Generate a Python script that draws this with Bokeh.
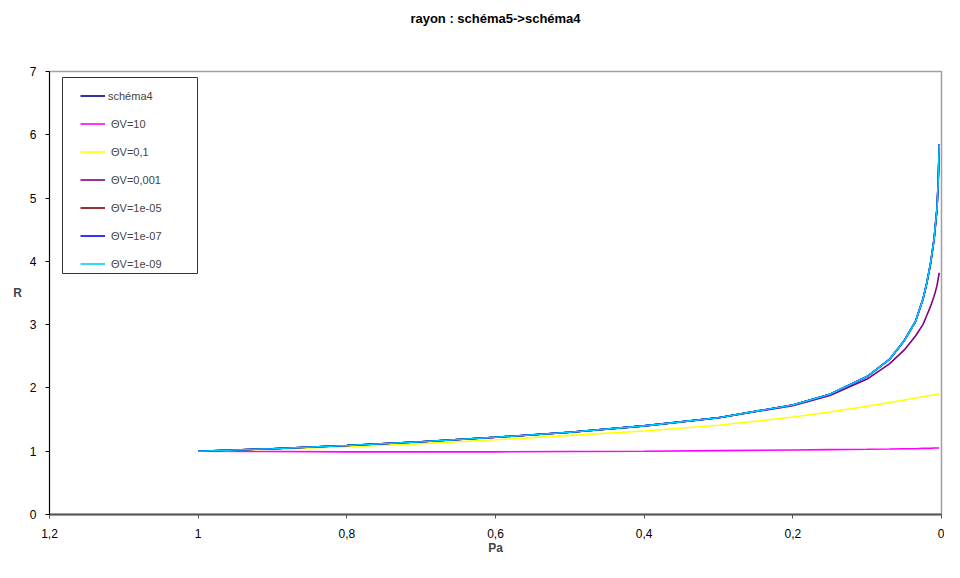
from bokeh.plotting import figure
from bokeh.models import (Range1d, FixedTicker, CustomJSTickFormatter, Legend, LegendItem,
                          BoxAnnotation, LinearAxis)
from bokeh.embed import file_html
from bokeh.resources import INLINE

# ---- data ----
pa = [1.0, 0.9, 0.8, 0.7, 0.6, 0.5, 0.4, 0.3, 0.2, 0.15, 0.1, 0.07, 0.05,
      0.035, 0.025, 0.02, 0.015, 0.01, 0.008, 0.006, 0.0045, 0.003]
schema4 = [1.00, 1.04, 1.09, 1.15, 1.22, 1.30, 1.40, 1.53, 1.73, 1.90, 2.18, 2.45, 2.75,
           3.05, 3.40, 3.65, 3.95, 4.35, 4.60, 4.85, 5.25, 5.85]
tv_10 = [1.00, 0.995, 0.99, 0.99, 0.99, 0.995, 1.00, 1.01, 1.02, 1.025, 1.03, 1.035, 1.04,
         1.04, 1.045, 1.045, 1.045, 1.05, 1.05, 1.05, 1.05, 1.05]
tv_0_1 = [1.00, 1.03, 1.07, 1.12, 1.18, 1.25, 1.32, 1.41, 1.54, 1.62, 1.71, 1.77, 1.81,
          1.84, 1.86, 1.87, 1.88, 1.89, 1.895, 1.90, 1.905, 1.91]
tv_0_001 = [1.00, 1.04, 1.09, 1.15, 1.22, 1.30, 1.40, 1.53, 1.72, 1.88, 2.14, 2.38, 2.60,
            2.82, 3.00, 3.14, 3.28, 3.45, 3.53, 3.62, 3.72, 3.82]
tv_1e05 = [1.00, 1.04, 1.09, 1.15, 1.22, 1.30, 1.40, 1.53, 1.73, 1.90, 2.18, 2.45, 2.75,
           3.05, 3.40, 3.64, 3.94, 4.34, 4.58, 4.83, 5.22, 5.80]
tv_1e07 = [1.00, 1.04, 1.09, 1.15, 1.22, 1.30, 1.40, 1.53, 1.73, 1.90, 2.18, 2.45, 2.75,
           3.05, 3.40, 3.65, 3.95, 4.35, 4.60, 4.85, 5.25, 5.85]
tv_1e09 = [1.00, 1.04, 1.09, 1.15, 1.22, 1.30, 1.40, 1.53, 1.73, 1.90, 2.18, 2.45, 2.75,
           3.05, 3.40, 3.65, 3.95, 4.35, 4.60, 4.85, 5.25, 5.85]

series_labels = ["schéma4", " ΘV=10", " ΘV=0,1", " ΘV=0,001", " ΘV=1e-05", " ΘV=1e-07", " ΘV=1e-09"]
series_values = [schema4, tv_10, tv_0_1, tv_0_001, tv_1e05, tv_1e07, tv_1e09]
series_colors = ["#000080", "#FF00FF", "#FFFF00", "#800080", "#800000", "#0000FF", "#00CCFF"]

x_ticks = [1.2, 1.0, 0.8, 0.6, 0.4, 0.2, 0.0]
y_ticks = [0, 1, 2, 3, 4, 5, 6, 7]
title_text = "rayon : schéma5->schéma4"

FONT = "Liberation Sans"

p = figure(width=944, height=562, output_backend="svg", toolbar_location=None, title=None,
           x_range=Range1d(1.2, 0), y_range=Range1d(0, 7),
           min_border_left=49, min_border_right=3, min_border_top=71, min_border_bottom=48)

p.background_fill_color = "white"
p.border_fill_color = "white"
p.outline_line_color = "#a0a0a0"
p.outline_line_width = 1.5
p.xgrid.visible = False
p.ygrid.visible = False

# main axes (grab them before adding anything else)
xa = p.below[0]
ya = p.left[0]

# title: label of an invisible top axis, centred over the whole chart
title_axis = LinearAxis(ticker=FixedTicker(ticks=[]), axis_line_color=None,
                        major_tick_line_color=None, minor_tick_line_color=None,
                        major_tick_out=0, major_tick_in=0, minor_tick_out=0, minor_tick_in=0,
                        major_label_standoff=0, bounds=(0.50, 0.744),
                        axis_label=title_text, axis_label_text_font=FONT,
                        axis_label_text_font_size="13px", axis_label_text_font_style="bold",
                        axis_label_text_color="black", axis_label_standoff=46)
p.add_layout(title_axis, "above")

xa.ticker = FixedTicker(ticks=x_ticks)
xa.formatter = CustomJSTickFormatter(code="return (Math.round(tick*10)/10).toString().replace('.', ',');")
xa.axis_label = "Pa"
xa.axis_label_text_font = FONT
xa.axis_label_text_font_size = "12px"
xa.axis_label_text_font_style = "bold"
xa.axis_label_standoff = 0
xa.major_label_text_font = FONT
xa.major_label_text_font_size = "12px"
xa.major_label_text_color = "black"
xa.major_label_standoff = 10
xa.axis_line_color = "#555555"
xa.axis_line_width = 2
xa.major_tick_line_color = "#555555"
xa.major_tick_out = 4
xa.major_tick_in = 0
xa.minor_tick_out = 0
xa.minor_tick_in = 0

ya.ticker = FixedTicker(ticks=y_ticks)
ya.axis_label = "R"
ya.axis_label_orientation = "horizontal"
ya.axis_label_text_font = FONT
ya.axis_label_text_font_size = "12px"
ya.axis_label_text_font_style = "bold"
ya.axis_label_standoff = 5
ya.major_label_text_font = FONT
ya.major_label_text_font_size = "12px"
ya.major_label_text_color = "black"
ya.major_label_standoff = 9
ya.axis_line_color = "black"
ya.axis_line_width = 1
ya.major_tick_line_color = "black"
ya.major_tick_out = 4
ya.major_tick_in = 0
ya.minor_tick_out = 0
ya.minor_tick_in = 0

items = []
for lab, vals, col in zip(series_labels, series_values, series_colors):
    r = p.line(pa, vals, line_color=col, line_width=1.6)
    items.append(LegendItem(label=lab, renderers=[r]))

# legend frame (drawn in canvas pixels)
box = BoxAnnotation(left=62, right=197, top=77, bottom=273,
                    left_units="canvas", right_units="canvas",
                    top_units="canvas", bottom_units="canvas",
                    fill_color="white", fill_alpha=1.0,
                    line_color="#333333", line_width=1, line_alpha=1.0)
p.add_layout(box)

legend = Legend(items=items, location=(31, 237))
legend.glyph_width = 25
legend.glyph_height = 27
legend.spacing = 1
legend.padding = 0
legend.margin = 0
legend.label_standoff = 3
legend.label_text_font = FONT
legend.label_text_font_size = "11px"
legend.border_line_color = None
legend.background_fill_alpha = 0
p.add_layout(legend, "center")

open("out.html", "w").write(file_html(p, INLINE))
